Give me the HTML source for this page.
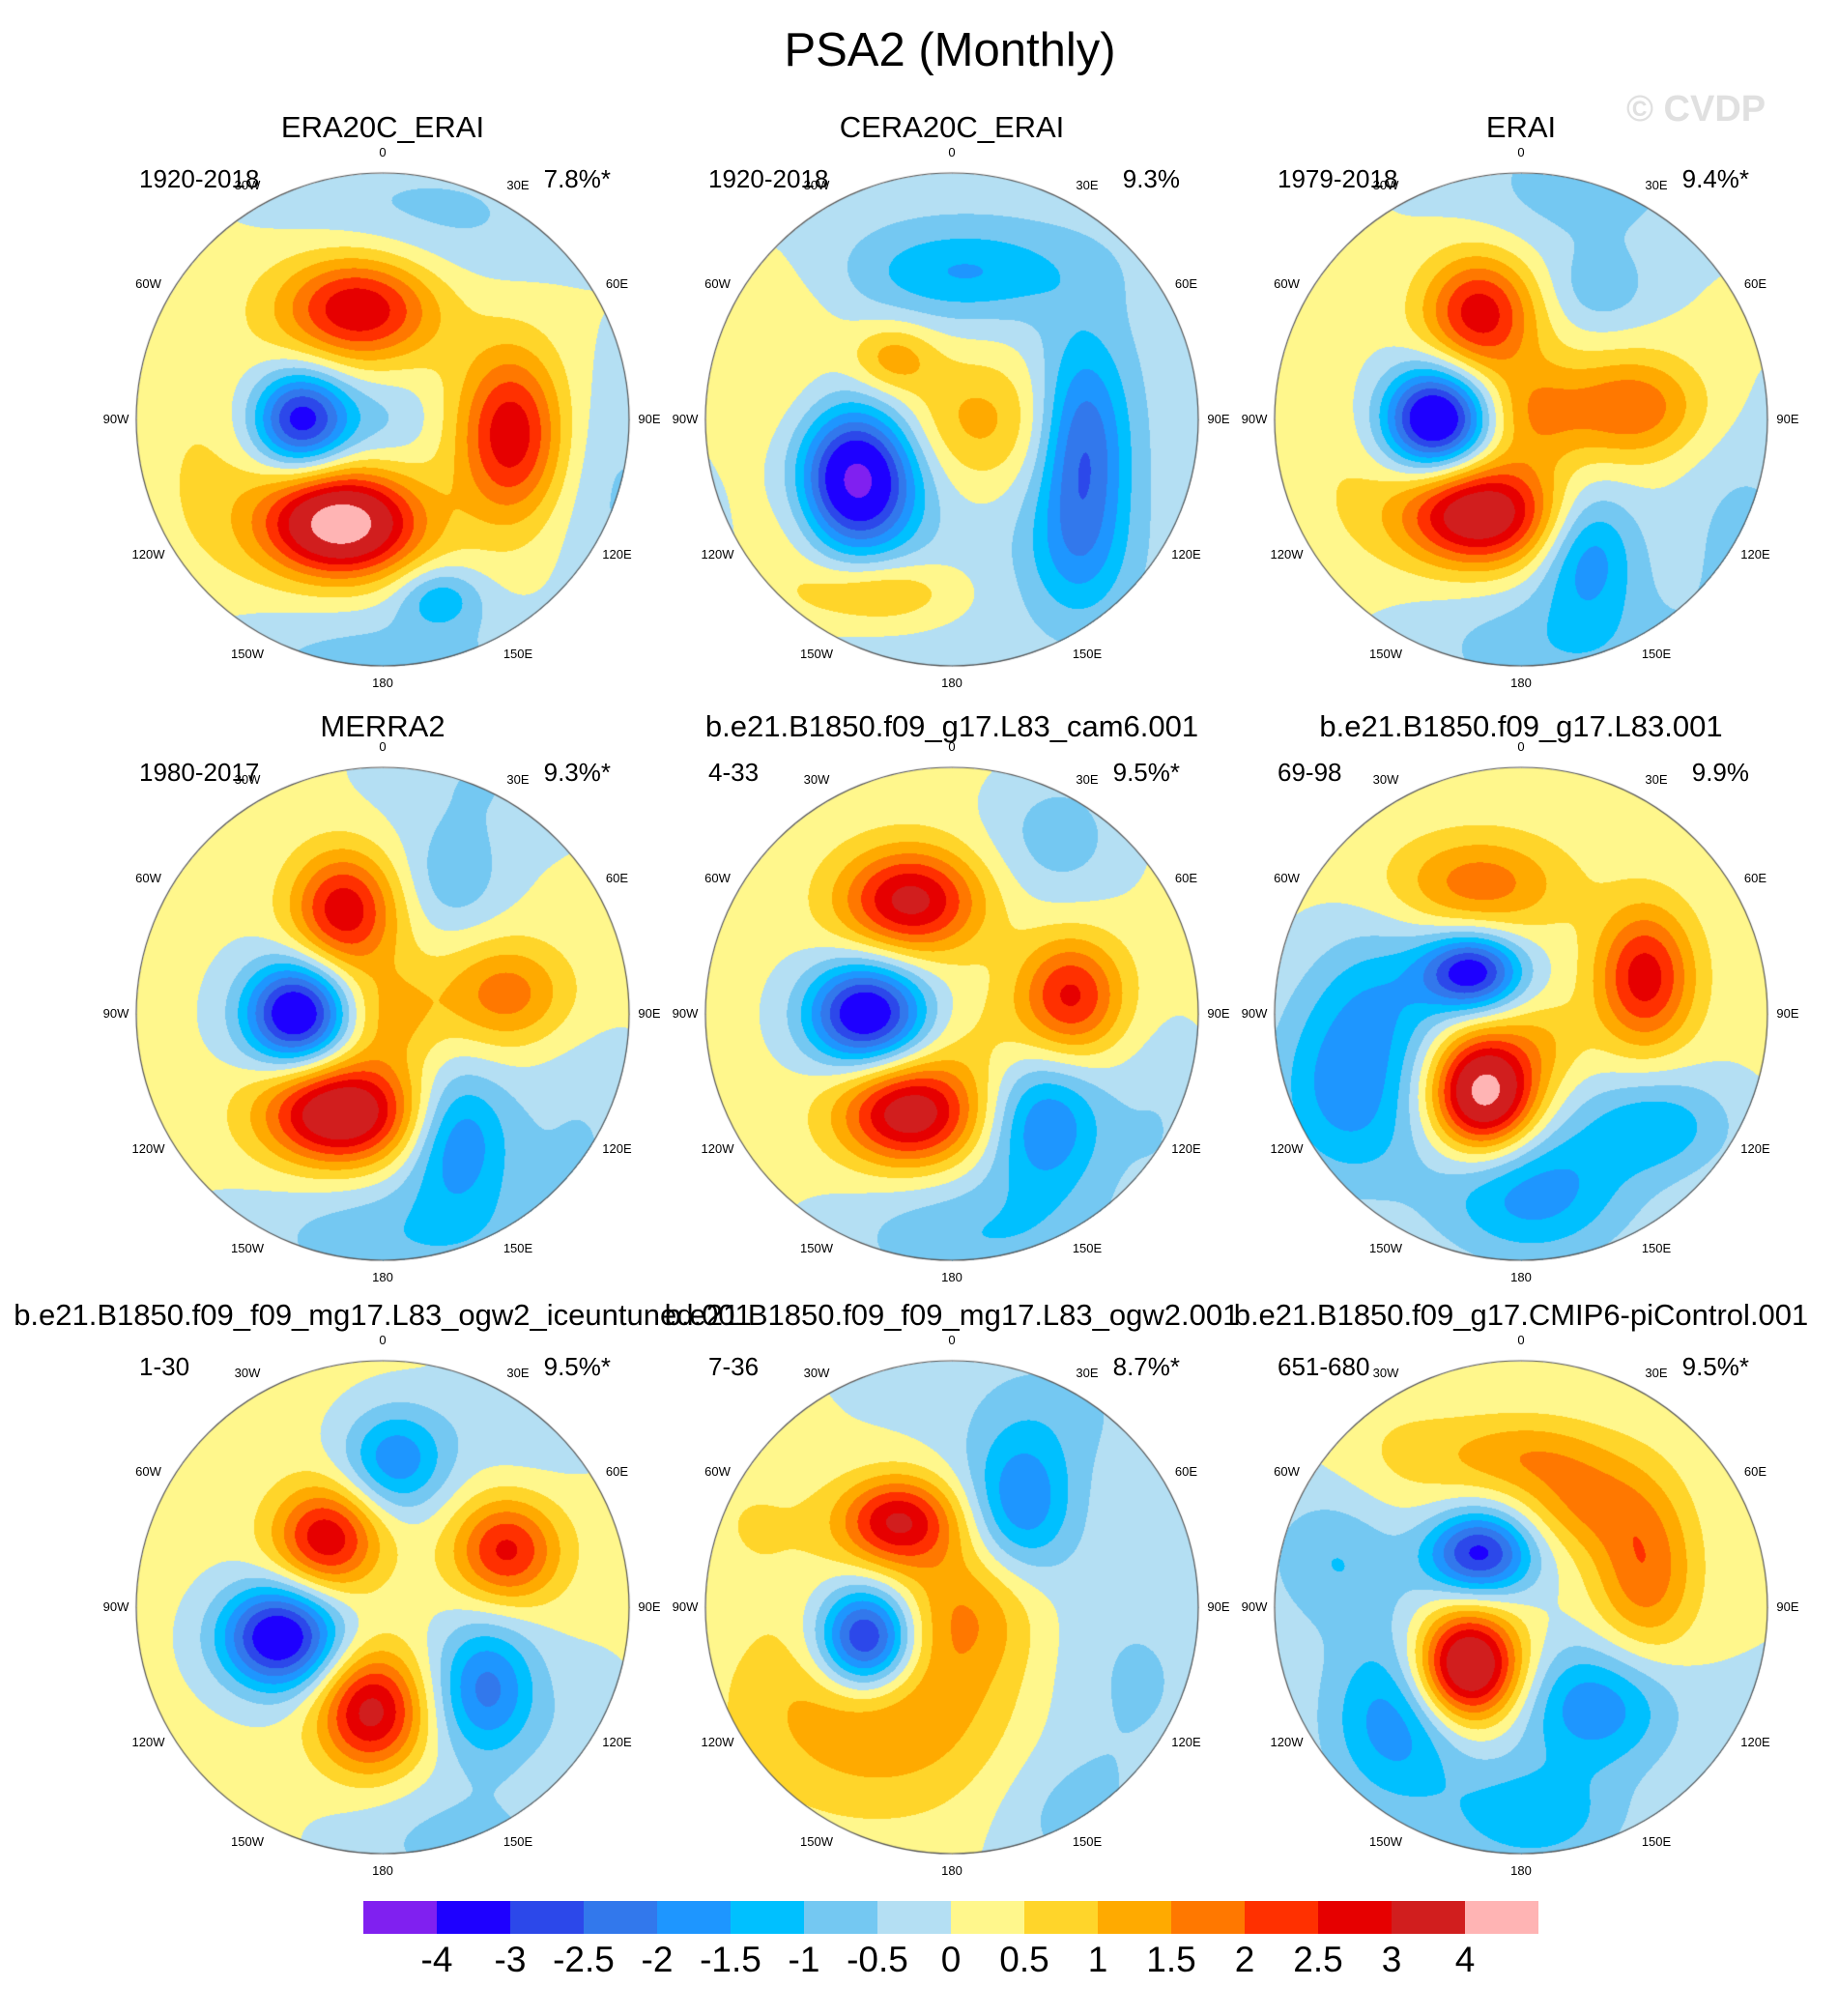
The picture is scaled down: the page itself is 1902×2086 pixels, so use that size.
<!DOCTYPE html>
<html><head><meta charset="utf-8">
<style>
html,body{margin:0;padding:0;background:#fff;}
#root{position:relative;width:1902px;height:2086px;font-family:"Liberation Sans",sans-serif;color:#000;overflow:hidden;}
.t{position:absolute;white-space:nowrap;}
canvas{position:absolute;}
</style></head>
<body>
<div id="root">
<div class="t" style="left:0;width:1966px;top:24px;text-align:center;font-size:49px;">PSA2 (Monthly)</div>
<div class="t" style="left:1683px;top:92px;font-size:38px;font-weight:bold;color:#e0e0e0;">© CVDP</div>
</div>
<script>
const levels=[-4,-3,-2.5,-2,-1.5,-1,-0.5,0,0.5,1,1.5,2,2.5,3,4];
const colors=["#8020F0","#1E00FF","#2C48EA","#3278EC","#1E96FF","#00C0FF","#74C8F2","#B4DFF3","#FFF78C","#FFD52A","#FFAA00","#FF7800","#FF3000","#E60000","#D11E1E","#FFB4B4"];
const titles=["ERA20C_ERAI","CERA20C_ERAI","ERAI","MERRA2","b.e21.B1850.f09_g17.L83_cam6.001","b.e21.B1850.f09_g17.L83.001","b.e21.B1850.f09_f09_mg17.L83_ogw2_iceuntuned.001","b.e21.B1850.f09_f09_mg17.L83_ogw2.001","b.e21.B1850.f09_g17.CMIP6-piControl.001"];
const years=["1920-2018","1920-2018","1979-2018","1980-2017","4-33","69-98","1-30","7-36","651-680"];
const pcts=["7.8%*","9.3%","9.4%*","9.3%*","9.5%*","9.9%","9.5%*","8.7%*","9.5%*"];
const bases=[0.15,-0.25,0.05,0.1,0.15,0.1,0.15,0.0,0];
// blobs: [x, y, amplitude, widthX, widthY] in unit-radius coords
const blobs1=[[-0.1,-0.45,2.9,0.22,0.15],[-0.33,0,-3.5,0.14,0.14],[0.52,0.06,2.8,0.15,0.24],[-0.17,0.42,4.5,0.22,0.15],[0.23,0.72,-1.3,0.12,0.09],[0.35,-0.75,-0.45,0.35,0.2],[0.0,-0.9,-0.45,0.45,0.15],[0,1.0,-0.9,0.5,0.18],[0.95,0.3,-0.7,0.2,0.4],[0.02,0.0,-0.6,0.14,0.14],[-0.7,0.2,0.4,0.2,0.3]];
const blobs2=[[0.05,-0.6,-1.3,0.32,0.13],[-0.24,-0.25,1.3,0.12,0.1],[-0.39,0.24,-4.3,0.17,0.2],[0.53,0.1,-2.4,0.13,0.3],[0.5,0.55,-1.0,0.15,0.2],[-0.3,0.7,1.3,0.22,0.1],[0.1,0.0,1.4,0.25,0.2],[-0.75,-0.25,0.7,0.25,0.35],[-0.65,0.45,0.7,0.15,0.25]];
const blobs3=[[-0.17,-0.43,2.8,0.16,0.17],[-0.35,0,-4.2,0.15,0.15],[0.45,-0.05,1.9,0.2,0.15],[-0.17,0.38,3.8,0.22,0.15],[0.27,0.54,-1.8,0.14,0.19],[0.32,-0.53,-0.8,0.15,0.12],[0.05,-0.03,1.3,0.15,0.15],[0.15,0.92,-0.9,0.4,0.18],[0.25,-0.95,-0.8,0.35,0.2],[-0.7,0.2,0.4,0.2,0.3],[0.9,0.5,-0.7,0.2,0.35]];
const blobs4=[[-0.16,-0.42,2.8,0.15,0.17],[-0.35,0,-4.0,0.15,0.15],[0.5,-0.08,1.7,0.18,0.15],[-0.17,0.4,3.9,0.22,0.15],[0.3,0.5,-2.0,0.15,0.2],[0.29,-0.55,-0.9,0.14,0.15],[0.02,0,1.1,0.15,0.15],[0.1,0.9,-1.0,0.45,0.18],[0.4,-0.95,-0.6,0.3,0.2],[0.8,0.5,-0.6,0.2,0.3]];
const blobs5=[[-0.17,-0.46,3.1,0.2,0.15],[-0.35,0,-3.9,0.17,0.15],[0.48,-0.07,2.5,0.15,0.17],[-0.17,0.4,3.4,0.2,0.15],[0.38,0.45,-2.1,0.17,0.2],[0.43,-0.72,-0.9,0.2,0.2],[0.1,0.9,-1.1,0.4,0.18],[0.1,0.1,0.4,0.15,0.15],[0.85,0.45,-0.6,0.15,0.3]];
const blobs6=[[-0.17,-0.53,1.7,0.24,0.14],[-0.2,-0.17,-3.4,0.14,0.11],[0.5,-0.15,2.7,0.14,0.2],[-0.15,0.32,4.5,0.15,0.17],[-0.7,0.3,-1.9,0.22,0.28],[0.04,0.72,-1.9,0.28,0.2],[0.55,0.45,-1.4,0.22,0.15],[-0.55,-0.1,-1.0,0.2,0.2],[0.1,0.1,0.6,0.12,0.12]];
const blobs7=[[0.05,-0.6,-2.0,0.15,0.15],[-0.23,-0.28,2.8,0.15,0.15],[0.5,-0.23,2.5,0.15,0.15],[-0.42,0.12,-3.9,0.17,0.15],[-0.05,0.42,3.1,0.15,0.17],[0.42,0.33,-2.3,0.15,0.2],[0.3,0.95,-0.8,0.35,0.18],[0.6,-0.8,-0.6,0.25,0.2],[0.85,0.55,-0.5,0.15,0.25]];
const blobs8=[[-0.22,-0.35,3.0,0.17,0.13],[0.28,-0.42,-1.9,0.15,0.2],[-0.35,0.13,-4.0,0.14,0.15],[-0.3,0.4,1.6,0.4,0.3],[0.07,0,1.2,0.2,0.2],[0.7,0.3,-0.6,0.3,0.35],[0.45,0.85,-0.6,0.2,0.2],[0.4,-0.8,-0.6,0.3,0.2],[-0.8,-0.35,0.5,0.2,0.2]];
const blobs9=[[0,-0.62,1.3,0.25,0.12],[0.5,-0.15,1.9,0.15,0.25],[0.25,-0.42,1.3,0.18,0.14],[-0.17,-0.22,-3.2,0.15,0.12],[-0.22,0.24,4.5,0.15,0.16],[-0.5,0.45,-1.9,0.2,0.25],[0.3,0.4,-1.9,0.22,0.18],[0.04,0.85,-1.4,0.25,0.15],[-0.75,-0.2,-1.0,0.2,0.2],[-0.5,-0.6,0.5,0.2,0.2]];
const allBlobs=[blobs1,blobs2,blobs3,blobs4,blobs5,blobs6,blobs7,blobs8,blobs9];
const lonLabels=["0","30E","60E","90E","120E","150E","180","150W","120W","90W","60W","30W"];

const root=document.getElementById('root');
const cxs=[396,985,1574], cys=[434,1049,1663], R=255;
const titleY=[132,752,1361], subY=[185,799,1414];
function hex(c){return [parseInt(c.substr(1,2),16),parseInt(c.substr(3,2),16),parseInt(c.substr(5,2),16)];}
const rgb=colors.map(hex);
function idx(v){let i=0;while(i<levels.length&&v>=levels[i])i++;return i;}
function txt(name,s,x,y,size,align){
  const d=document.createElement('div');d.className='t';
  
  
  d.textContent=s;d.style.fontSize=size+'px';d.style.top=(y-size*0.58)+'px';
  if(align==='c'){d.style.left=(x-500)+'px';d.style.width='1000px';d.style.textAlign='center';}
  else if(align==='r'){d.style.left=(x-400)+'px';d.style.width='400px';d.style.textAlign='right';}
  else d.style.left=x+'px';
  root.appendChild(d);
}
for(let p=0;p<9;p++){
  const cx=cxs[p%3], cy=cys[Math.floor(p/3)];
  const bl=allBlobs[p], base=bases[p];
  const cv=document.createElement('canvas');
  
  
  const S=2*R+4;cv.width=S;cv.height=S;cv.style.left=(cx-R-2)+'px';cv.style.top=(cy-R-2)+'px';
  const ctx=cv.getContext('2d');const img=ctx.createImageData(S,S);
  for(let j=0;j<S;j++)for(let i=0;i<S;i++){
    const x=(i-R-2)/R,y=(j-R-2)/R;
    if(x*x+y*y>1)continue;
    let v=base;
    for(const b of bl){const dx=(x-b[0])/b[3],dy=(y-b[1])/b[4];v+=b[2]*Math.exp(-(dx*dx+dy*dy)/2);}
    const c=rgb[idx(v)];const k=(j*S+i)*4;
    img.data[k]=c[0];img.data[k+1]=c[1];img.data[k+2]=c[2];img.data[k+3]=255;
  }
  ctx.putImageData(img,0,0);
  ctx.beginPath();ctx.arc(R+2,R+2,R,0,Math.PI*2);ctx.strokeStyle='#555';ctx.lineWidth=1.2;ctx.stroke();
  root.appendChild(cv);
  txt('panel-title-'+(p+1),titles[p],cx,titleY[Math.floor(p/3)],31,'c');
  txt('period-label-'+(p+1),years[p],cx-252,subY[Math.floor(p/3)],26,'l');
  txt('variance-label-'+(p+1),pcts[p],cx+236,subY[Math.floor(p/3)],26,'r');
  for(let k=0;k<12;k++){
    const a=k*Math.PI/6;
    let rr=R+25;
    if(k===0||k===6) rr=R+18;
    if(k===3||k===9) rr=R+21;
    txt('lon-label',lonLabels[k],cx+rr*Math.sin(a),cy-rr*Math.cos(a)+(k===0?-3:0),13,'c');
  }
}
const cbX=376, cbW=1216/16, cbY=1967, cbH=34;
for(let i=0;i<16;i++){
  const d=document.createElement('div');
  
  
  d.style.cssText=`position:absolute;left:${cbX+i*cbW}px;top:${cbY}px;width:${cbW}px;height:${cbH}px;background:${colors[i]};`;
  root.appendChild(d);
}
for(let i=0;i<levels.length;i++) txt('colorbar-tick-label',String(levels[i]),cbX+(i+1)*cbW,2028,37,'c');
</script>
</body></html>
